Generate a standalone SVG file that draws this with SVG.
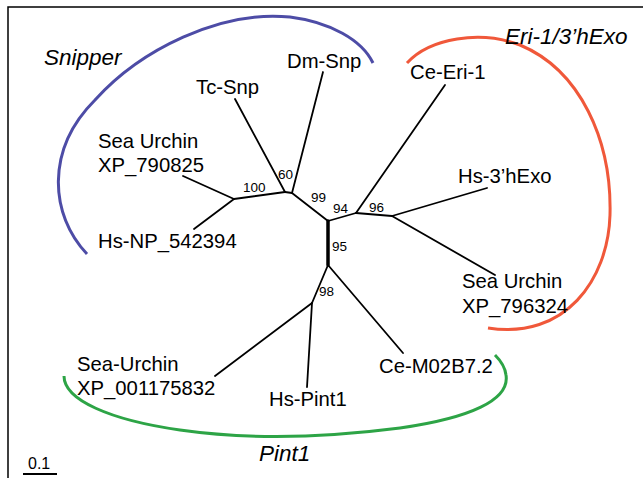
<svg xmlns="http://www.w3.org/2000/svg" width="643" height="478" viewBox="0 0 643 478">
<style>
.frame{fill:none;stroke:#000;stroke-width:1.5}
.br{fill:none;stroke:#000;stroke-width:1.8;stroke-linecap:round}
.thick{stroke-width:3.5}
.leaf{font-family:"Liberation Sans",Arial,sans-serif;font-size:20.3px;fill:#000}
.boot{font-family:"Liberation Sans",Arial,sans-serif;font-size:13.5px;fill:#000}
.clade{font-family:"Liberation Sans",Arial,sans-serif;font-size:22.5px;font-style:italic;fill:#000}
.arc{fill:none;stroke-width:3;stroke-linecap:butt}
</style>
<rect width="643" height="478" fill="#fff"/>
<path class="frame" d="M8 478 V7 H643"/>
<g id="clade-arcs">
<path class="arc" stroke="#4d4ca6" d="M87 254 C50 215,45 150,95 100 C140 50,220 10,290 17 C330 22,362 40,373 63"/>
<path class="arc" stroke="#f0583a" d="M407 63 C430 38,480 30,520 45 C580 70,612 140,610 215 C608 280,565 340,488 328"/>
<path class="arc" stroke="#2da446" d="M64 376 C64 400,110 420,180 430 C250 440,330 437,400 428 C470 418,510 400,506 375 C505 366,500 360,495 355"/>
</g>
<g id="connectors">
<line class="br" x1="234" y1="199" x2="285" y2="192"/>
<line class="br" x1="285" y1="192" x2="235" y2="99"/>
<line class="br" x1="285" y1="192" x2="292" y2="193"/>
<line class="br" x1="292" y1="193" x2="323" y2="72"/>
<line class="br" x1="292" y1="193" x2="328" y2="221"/>
<line class="br thick" x1="328" y1="221" x2="328" y2="265"/>
<line class="br" x1="328" y1="221" x2="356" y2="213"/>
<line class="br" x1="356" y1="213" x2="445" y2="85"/>
<line class="br" x1="356" y1="213" x2="392" y2="216"/>
<line class="br" x1="392" y1="216" x2="487" y2="188"/>
<line class="br" x1="392" y1="216" x2="495" y2="275"/>
<line class="br" x1="328" y1="265" x2="403" y2="353"/>
<line class="br" x1="328" y1="265" x2="312" y2="303"/>
<line class="br" x1="312" y1="303" x2="215" y2="376"/>
<line class="br" x1="312" y1="303" x2="307" y2="387"/>
<line class="br" x1="234" y1="199" x2="183" y2="176"/>
<line class="br" x1="234" y1="199" x2="194" y2="229"/>
</g>
<g id="bootstrap">
<text class="boot" x="243" y="192">100</text>
<text class="boot" x="278" y="179">60</text>
<text class="boot" x="311" y="202">99</text>
<text class="boot" x="333" y="213">94</text>
<text class="boot" x="369" y="212">96</text>
<text class="boot" x="332" y="251">95</text>
<text class="boot" x="319" y="296">98</text>
</g>
<g id="tc-snp"><text class="leaf" x="196" y="94">Tc-Snp</text></g>
<g id="dm-snp"><text class="leaf" x="287" y="68">Dm-Snp</text></g>
<g id="sea-urchin-xp790825"><text class="leaf" x="98" y="148">Sea Urchin</text><text class="leaf" x="98" y="172">XP_790825</text></g>
<g id="hs-np542394"><text class="leaf" x="98" y="248">Hs-NP_542394</text></g>
<g id="ce-eri-1"><text class="leaf" x="410" y="79">Ce-Eri-1</text></g>
<g id="hs-3hexo"><text class="leaf" x="458" y="183">Hs-3’hExo</text></g>
<g id="sea-urchin-xp796324"><text class="leaf" x="462" y="288">Sea Urchin</text><text class="leaf" x="462" y="313">XP_796324</text></g>
<g id="sea-urchin-xp001175832"><text class="leaf" x="77" y="371">Sea-Urchin</text><text class="leaf" x="77" y="395">XP_001175832</text></g>
<g id="hs-pint1"><text class="leaf" x="269" y="406">Hs-Pint1</text></g>
<g id="ce-m02b7-2"><text class="leaf" x="379" y="373">Ce-M02B7.2</text></g>
<g id="clade-snipper"><text class="clade" x="44" y="65">Snipper</text></g>
<g id="clade-eri"><text class="clade" x="505" y="44">Eri-1/3’hExo</text></g>
<g id="clade-pint1"><text class="clade" x="259" y="461">Pint1</text></g>
<g id="scale-bar">
<text x="28" y="469" font-family="'Liberation Sans',Arial,sans-serif" font-size="16">0.1</text>
<line x1="23" y1="474" x2="57" y2="474" stroke="#000" stroke-width="2"/>
</g>
</svg>
